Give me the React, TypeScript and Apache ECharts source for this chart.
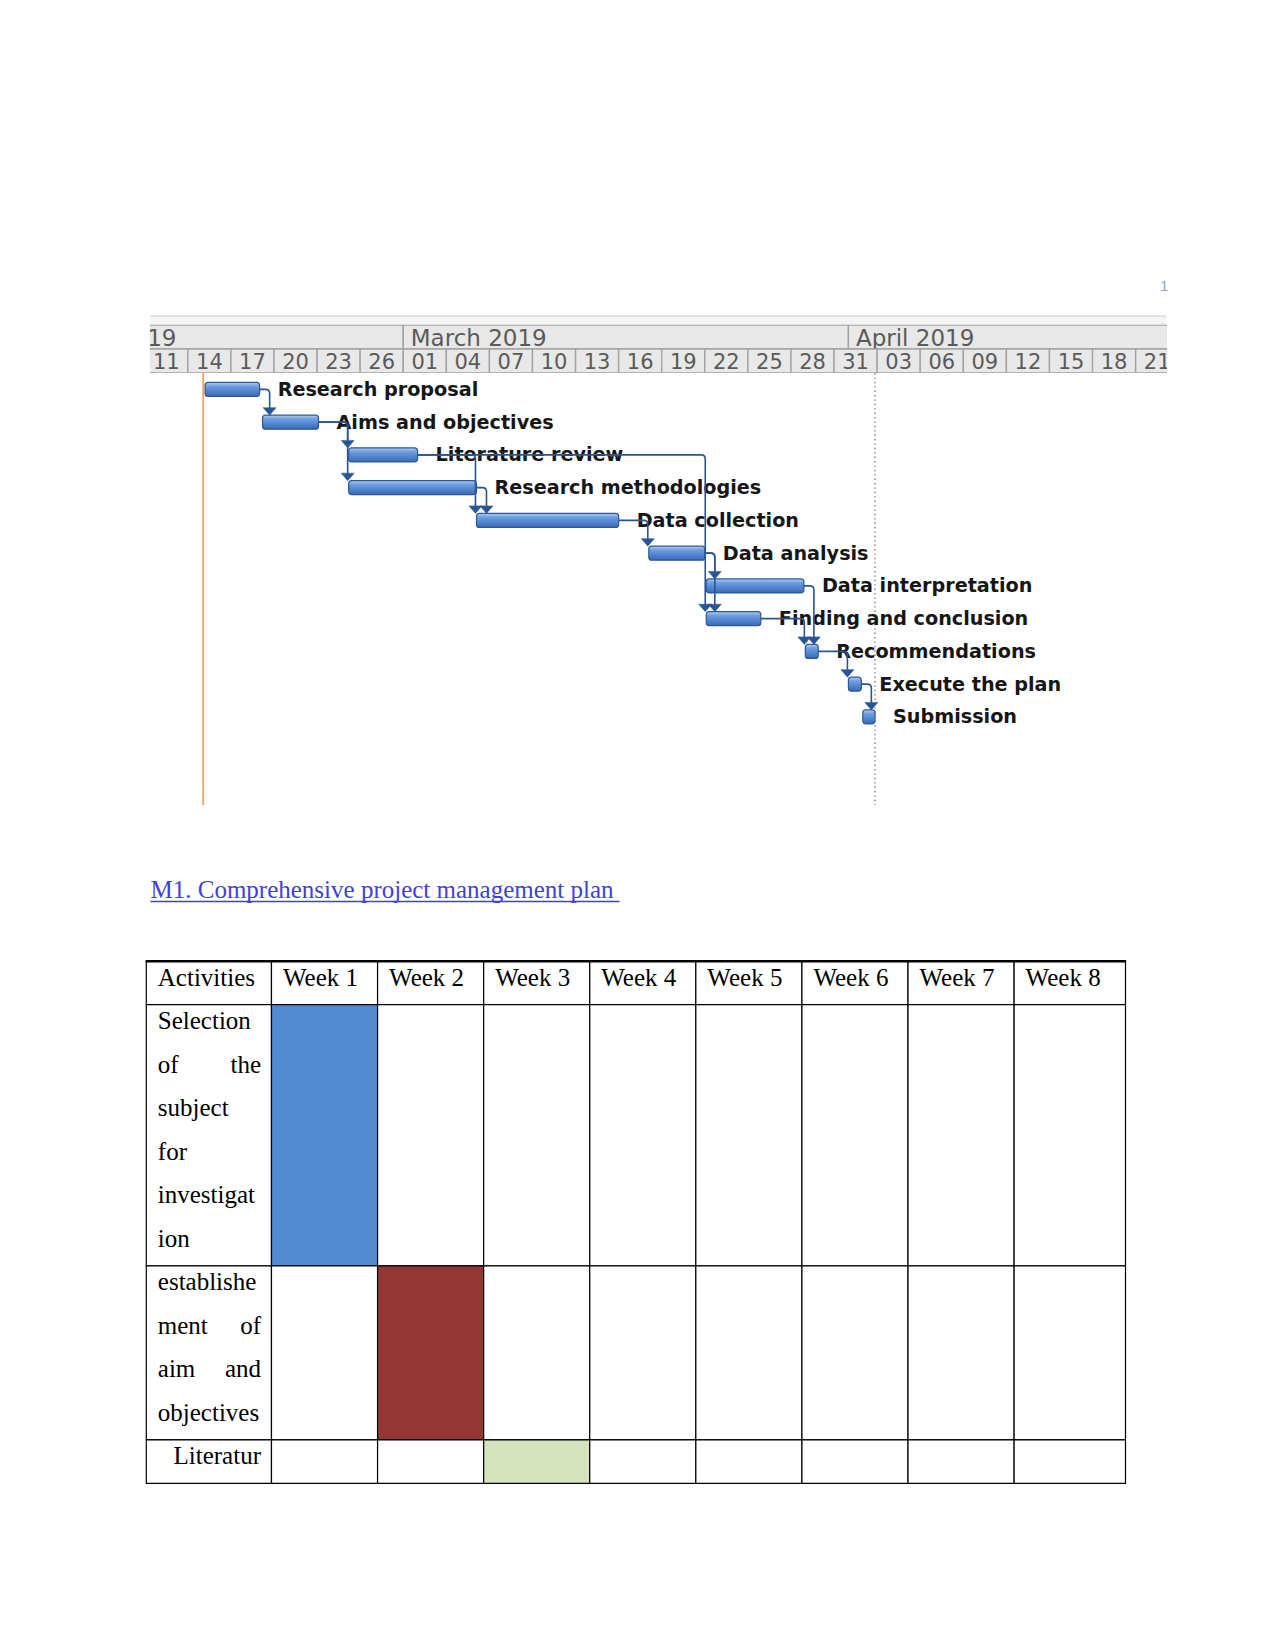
import React, { useEffect, useRef } from "react";
import * as echarts from "echarts";

// ---------- Gantt data (day offsets from 1 March 2019) ----------
const taskNames = [
  "Research proposal",
  "Aims and objectives",
  "Literature review",
  "Research methodologies",
  "Data collection",
  "Data analysis",
  "Data interpretation",
  "Finding and conclusion",
  "Recommendations",
  "Execute the plan",
  "Submission",
];
const taskStart = [-13.8, -9.8, -3.8, -3.8, 5.1, 17.1, 21.1, 21.1, 28.0, 31.0, 32.0];
const taskEnd = [-10.0, -5.9, 1.0, 5.1, 15.0, 21.0, 27.9, 24.9, 28.9, 31.9, 32.85];
// [predecessor, successor]
const taskLinks = [
  [0, 1], [1, 2], [1, 3], [2, 4], [3, 4], [4, 5], [5, 6], [5, 7], [2, 7],
  [6, 8], [7, 8], [8, 9], [9, 10],
];
const monthLabels = ["February 2019", "March 2019", "April 2019"];
const monthStart = [-28, 0, 31];
const monthEnd = [0, 31, 61];
const dayTickLabels = ["11", "14", "17", "20", "23", "26", "01", "04", "07", "10", "13", "16", "19", "22", "25", "28", "31", "03", "06", "09", "12", "15", "18", "21"];
const dayTickOffsets = [-18, -15, -12, -9, -6, -3, 0, 3, 6, 9, 12, 15, 18, 21, 24, 27, 30, 33, 36, 39, 42, 45, 48, 51];
const todayLine = -13.93;
const statusLine = 32.85;

// ---------- Table data ----------
const tableHeader = ["Activities", "Week 1", "Week 2", "Week 3", "Week 4", "Week 5", "Week 6", "Week 7", "Week 8"];
const activityLines = [
  ["Selection", "of the", "subject", "for", "investigat", "ion"],
  ["establishe", "ment of", "aim and", "objectives"],
  ["Literatur"],
];
const activityAlign = ["justify", "justify", "right"];
const activityWeek = [0, 1, 2];
const activityFill = ["#538bd3", "#943634", "#d7e3bf"];

const heading = "M1. Comprehensive project management plan ";

export default function App() {
  const ref = useRef<HTMLDivElement>(null);

  useEffect(() => {
    const chart = echarts.init(ref.current!, null, { renderer: "svg" });

    const X_MIN = -17.6;
    const X_MAX = 53.15;

    // header items
    const headerItems: any[] = [];
    monthLabels.forEach((l, i) => headerItems.push({ row: 0, s: monthStart[i], e: monthEnd[i], label: l, month: true }));
    dayTickLabels.forEach((l, i) => headerItems.push({ row: 1, s: dayTickOffsets[i], e: dayTickOffsets[i] + 3, label: l, month: false }));

    // table cells
    const tX0 = -1.18;
    const cells: any[] = [];
    tableHeader.forEach((h, c) => {
      cells.push({ x0: c === 0 ? tX0 : c - 1, x1: c, y0: 0, y1: 1, last: c === 8, fill: "#ffffff", lines: [h], align: "left" });
    });
    let yc = 1;
    activityLines.forEach((lines, r) => {
      const y0 = yc;
      const y1 = yc + lines.length;
      for (let c = 0; c < 9; c++) {
        const filled = c - 1 === activityWeek[r];
        cells.push({
          x0: c === 0 ? tX0 : c - 1,
          x1: c,
          y0,
          y1,
          last: c === 8,
          fill: filled ? activityFill[r] : "#ffffff",
          lines: c === 0 ? lines : [],
          align: activityAlign[r],
        });
      }
      yc = y1;
    });

    const labelFont = { fontFamily: "DejaVu Sans", fontWeight: "bold", fontSize: 19.2 };
    const linkColor = "#2a5593";

    const option: any = {
      animation: false,
      backgroundColor: "#ffffff",
      grid: [
        { left: 150.5, top: 325, width: 1016, height: 48 },
        { left: 150.5, top: 373, width: 1016, height: 432 },
        { left: 146.3, top: 961.2, width: 979.2, height: 522.2 },
      ],
      xAxis: [
        { type: "value", gridIndex: 0, min: X_MIN, max: X_MAX, show: false },
        { type: "value", gridIndex: 1, min: X_MIN, max: X_MAX, show: false },
        { type: "value", gridIndex: 2, min: tX0, max: 8.05, show: false },
      ],
      yAxis: [
        { type: "value", gridIndex: 0, min: 0, max: 2, inverse: true, show: false },
        { type: "value", gridIndex: 1, min: -0.5, max: 12.69, inverse: true, show: false },
        { type: "value", gridIndex: 2, min: 0, max: 12, inverse: true, show: false },
      ],
      graphic: [
        { type: "rect", shape: { x: 150.5, y: 316.5, width: 1016, height: 9 }, style: { fill: "#f4f4f4" }, silent: true },
        { type: "line", shape: { x1: 150.5, y1: 316, x2: 1166.5, y2: 316 }, style: { stroke: "#c6c6c6", lineWidth: 1 }, silent: true },
        { type: "line", shape: { x1: 150.5, y1: 325.5, x2: 1166.5, y2: 325.5 }, style: { stroke: "#9a9a9a", lineWidth: 1.5 }, silent: true },
        {
          type: "text", x: 1160, y: 285, silent: true,
          style: { text: "1", fill: "#86a6cf", fontSize: 15, fontFamily: "Liberation Sans", verticalAlign: "middle", textVerticalAlign: "middle" },
        },
        {
          type: "text", x: 150.5, y: 889.6, silent: true,
          style: {
            text: heading, fill: "#3f3fd9", fontSize: 25, fontFamily: "Liberation Serif",
            align: "left", textAlign: "left", verticalAlign: "middle", textVerticalAlign: "middle",
          },
        },
        { type: "line", shape: { x1: 150.5, y1: 901.5, x2: 619.5, y2: 901.5 }, style: { stroke: "#3f3fd9", lineWidth: 1.3 }, silent: true },
      ],
      series: [
        // timescale header
        {
          type: "custom",
          xAxisIndex: 0,
          yAxisIndex: 0,
          clip: true,
          silent: true,
          data: headerItems.map((h) => [h.s, h.row, h.e]),
          renderItem: (params: any, api: any) => {
            const h = headerItems[params.dataIndex];
            const p0 = api.coord([h.s, h.row]);
            const p1 = api.coord([h.e, h.row + 1]);
            return {
              type: "group",
              children: [
                {
                  type: "rect",
                  shape: { x: p0[0], y: p0[1], width: p1[0] - p0[0], height: p1[1] - p0[1] },
                  style: { fill: "#e8e8e8", stroke: "#a3a3a3", lineWidth: 1.4 },
                },
                {
                  type: "text",
                  x: h.month ? p0[0] + 7.5 : (p0[0] + p1[0]) / 2,
                  y: (p0[1] + p1[1]) / 2 + 1,
                  style: {
                    text: h.label,
                    fill: "#5a5a5a",
                    fontFamily: "DejaVu Sans",
                    fontSize: h.month ? 23 : 21,
                    align: h.month ? "left" : "center",
                    textAlign: h.month ? "left" : "center",
                    verticalAlign: "middle",
                    textVerticalAlign: "middle",
                  },
                },
              ],
            };
          },
        },
        // today / status lines
        {
          type: "custom",
          xAxisIndex: 1,
          yAxisIndex: 1,
          silent: true,
          data: [[todayLine, 0], [statusLine, 1]],
          renderItem: (params: any, api: any) => {
            const cs = params.coordSys;
            const x = api.coord([api.value(0), 0])[0];
            const today = params.dataIndex === 0;
            return {
              type: "line",
              shape: { x1: x, y1: cs.y, x2: x, y2: cs.y + cs.height },
              style: today
                ? { stroke: "#f2a262", lineWidth: 1.8 }
                : { stroke: "#7c7c7c", lineWidth: 1.4, lineDash: [1.4, 3] },
            };
          },
        },
        // task bars + labels
        {
          type: "custom",
          xAxisIndex: 1,
          yAxisIndex: 1,
          silent: true,
          z: 3,
          data: taskNames.map((_, i) => [taskStart[i], i, taskEnd[i]]),
          renderItem: (params: any, api: any) => {
            const i = params.dataIndex;
            const p0 = api.coord([taskStart[i], i]);
            const p1 = api.coord([taskEnd[i], i]);
            const h = 14;
            return {
              type: "group",
              children: [
                {
                  type: "rect",
                  shape: { x: p0[0], y: p0[1] - h / 2, width: p1[0] - p0[0], height: h, r: 3 },
                  style: {
                    fill: new echarts.graphic.LinearGradient(0, 0, 0, 1, [
                      { offset: 0, color: "#b2cdf1" },
                      { offset: 0.28, color: "#6f9ddd" },
                      { offset: 0.7, color: "#4c80cc" },
                      { offset: 1, color: "#3a68ad" },
                    ]),
                    stroke: "#2c5896",
                    lineWidth: 1.2,
                  },
                },
                {
                  type: "text",
                  x: p1[0] + 18,
                  y: p0[1],
                  style: {
                    text: taskNames[i],
                    fill: "#161616",
                    ...labelFont,
                    align: "left",
                    textAlign: "left",
                    verticalAlign: "middle",
                    textVerticalAlign: "middle",
                  },
                },
              ],
            };
          },
        },
        // dependency links
        {
          type: "custom",
          xAxisIndex: 1,
          yAxisIndex: 1,
          silent: true,
          z: 4,
          data: taskLinks.map(([p, s]) => [taskEnd[p], p, taskStart[s], s]),
          renderItem: (params: any, api: any) => {
            const a = api.coord([api.value(0), api.value(1)]);
            const b = api.coord([api.value(2), api.value(3)]);
            const xl = Math.max(a[0] + 10, b[0] - 1);
            const top = b[1] - 7;
            const r = 4;
            const d = `M${a[0]} ${a[1]} L${xl - r} ${a[1]} Q${xl} ${a[1]} ${xl} ${a[1] + r} L${xl} ${top - 6}`;
            return {
              type: "group",
              children: [
                { type: "path", shape: { pathData: d }, style: { fill: "none", stroke: linkColor, lineWidth: 1.6 } },
                {
                  type: "polygon",
                  shape: { points: [[xl - 6.5, top - 7.5], [xl + 6.5, top - 7.5], [xl, top]] },
                  style: { fill: linkColor, stroke: linkColor, lineWidth: 0.5 },
                },
              ],
            };
          },
        },
        // table
        {
          type: "custom",
          xAxisIndex: 2,
          yAxisIndex: 2,
          silent: true,
          data: cells.map((c) => [c.x0, c.y0, c.x1, c.y1]),
          renderItem: (params: any, api: any) => {
            const c = cells[params.dataIndex];
            const cs = params.coordSys;
            const p0 = api.coord([c.x0, c.y0]);
            const p1 = api.coord([c.x1, c.y1]);
            const xr = c.last ? cs.x + cs.width : p1[0];
            const children: any[] = [
              {
                type: "rect",
                shape: { x: p0[0], y: p0[1], width: xr - p0[0], height: p1[1] - p0[1] },
                style: { fill: c.fill, stroke: "#000000", lineWidth: 1.2 },
              },
            ];
            if (c.y0 === 0) {
              children.push({
                type: "line",
                shape: { x1: p0[0] - 0.6, y1: p0[1], x2: xr + 0.6, y2: p0[1] },
                style: { stroke: "#000000", lineWidth: 2.4 },
              });
            }
            const left = p0[0] + 11.5;
            const right = xr - 10.5;
            const font = { fontFamily: "Liberation Serif", fontSize: 25, fill: "#000000" };
            c.lines.forEach((line: string, k: number) => {
              const y = api.coord([c.x0, c.y0 + k])[1] + 16;
              const words = line.split(" ");
              const isLast = k === c.lines.length - 1;
              if (c.align === "right") {
                children.push({ type: "text", x: right, y, style: { text: line, ...font, align: "right", textAlign: "right", verticalAlign: "middle", textVerticalAlign: "middle" } });
              } else if (c.align === "justify" && words.length > 1 && !isLast) {
                children.push({ type: "text", x: left, y, style: { text: words[0], ...font, align: "left", textAlign: "left", verticalAlign: "middle", textVerticalAlign: "middle" } });
                children.push({ type: "text", x: right, y, style: { text: words[words.length - 1], ...font, align: "right", textAlign: "right", verticalAlign: "middle", textVerticalAlign: "middle" } });
              } else {
                children.push({ type: "text", x: left, y, style: { text: line, ...font, align: "left", textAlign: "left", verticalAlign: "middle", textVerticalAlign: "middle" } });
              }
            });
            return { type: "group", children };
          },
        },
      ],
    };

    chart.setOption(option);
    return () => chart.dispose();
  }, []);

  return (
    <div
      ref={ref}
      style={{ position: "absolute", left: 0, top: 0, width: 1275, height: 1651, background: "#ffffff" }}
    />
  );
}
